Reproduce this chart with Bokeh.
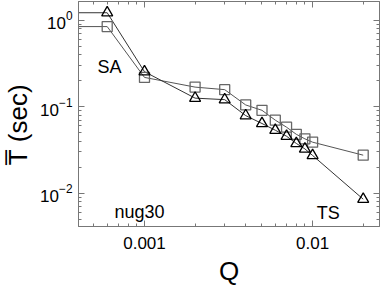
from bokeh.plotting import figure
from bokeh.models import LogAxis, FixedTicker, Range1d, Label, CustomJSTickFormatter
from bokeh.embed import file_html
from bokeh.resources import INLINE

# data
q_values = [0.0003, 0.0006, 0.001, 0.002, 0.003, 0.004, 0.005, 0.006, 0.007, 0.008, 0.009, 0.01, 0.02]
t_triangle = [1.23, 1.23, 0.255, 0.126, 0.121, 0.079, 0.064, 0.0535, 0.0456, 0.0376, 0.0325, 0.0273, 0.0085]
t_square = [0.85, 0.85, 0.219, 0.169, 0.158, 0.105, 0.091, 0.070, 0.058, 0.048, 0.0425, 0.0389, 0.0275]

x_major = [0.001, 0.01]
x_major_labels = ["0.001", "0.01"]
x_minor = [0.0004, 0.0005, 0.0006, 0.0007, 0.0008, 0.0009,
           0.002, 0.003, 0.004, 0.005, 0.006, 0.007, 0.008, 0.009,
           0.02]
y_major = [0.01, 0.1, 1.0]
y_minor = [0.005, 0.006, 0.007, 0.008, 0.009,
           0.02, 0.03, 0.04, 0.05, 0.06, 0.07, 0.08, 0.09,
           0.2, 0.3, 0.4, 0.5, 0.6, 0.7, 0.8, 0.9]

annotations = [("SA", 0.000525, 0.286), ("nug30", 0.000663, 0.0060), ("TS", 0.01057, 0.0059)]
y_title = "T\u0305 (sec)"
x_title = "Q"

FONT = "Liberation Sans"
AXIS_GRAY = "#777777"

p = figure(x_axis_type="log", y_axis_type="log",
           x_range=Range1d(0.000405, 0.025), y_range=Range1d(0.0041, 1.66),
           frame_width=301, frame_height=225,
           min_border_left=8, min_border_right=2, min_border_top=0, min_border_bottom=0,
           output_backend="svg", toolbar_location=None)
p.styles = {"margin-top": "-4px"}
p.outline_line_color = AXIS_GRAY
p.grid.visible = False
p.background_fill_color = "white"
p.border_fill_color = "white"

xt = FixedTicker(ticks=x_major, minor_ticks=x_minor)
yt = FixedTicker(ticks=y_major, minor_ticks=y_minor)

p.xaxis.ticker = xt
p.yaxis.ticker = yt
p.xaxis.major_label_overrides = {t: l for t, l in zip(x_major, x_major_labels)}

for ax in (p.xaxis[0], p.yaxis[0]):
    ax.axis_line_color = AXIS_GRAY
    ax.major_tick_line_color = AXIS_GRAY
    ax.minor_tick_line_color = AXIS_GRAY
    ax.major_tick_in = 6
    ax.major_tick_out = 0
    ax.minor_tick_in = 3
    ax.minor_tick_out = 0
    ax.major_label_text_font = FONT
    ax.major_label_text_font_size = "17px"
    ax.major_label_text_color = "black"
    ax.axis_label_text_font = FONT
    ax.axis_label_text_font_style = "normal"
    ax.axis_label_text_font_size = "26px"
    ax.axis_label_text_color = "black"

p.xaxis.axis_label = x_title
p.xaxis.major_label_standoff = 10
p.xaxis.axis_label_standoff = 4
# trailing no-break spaces nudge the rotated title down, as in the reference
p.yaxis.axis_label = y_title + "\u00a0\u00a0\u00a0"
p.yaxis.major_label_standoff = 6
p.yaxis.axis_label_standoff = 4

for loc, ticker in (("right", yt), ("above", xt)):
    ax = LogAxis(ticker=ticker, axis_line_color=AXIS_GRAY,
                 major_tick_line_color=AXIS_GRAY, minor_tick_line_color=AXIS_GRAY,
                 major_tick_in=6, major_tick_out=0, minor_tick_in=3, minor_tick_out=0,
                 formatter=CustomJSTickFormatter(code="return ' '"),
                 major_label_text_font_size="2px", major_label_standoff=0)
    p.add_layout(ax, loc)

p.line(q_values, t_square, line_color="#555555", line_width=1)
p.line(q_values, t_triangle, line_color="#333333", line_width=1)
p.scatter(q_values, t_square, marker="square", size=10, fill_color=None,
          line_color="#666666", line_width=1.3)
p.scatter(q_values, t_triangle, marker="triangle", size=11, fill_color=None,
          line_color="black", line_width=1.3)

for txt, x, y in annotations:
    p.add_layout(Label(x=x, y=y, text=txt, text_font=FONT, text_font_size="18px",
                       text_color="black", text_baseline="alphabetic"))

open("out.html", "w").write(file_html(p, INLINE))
